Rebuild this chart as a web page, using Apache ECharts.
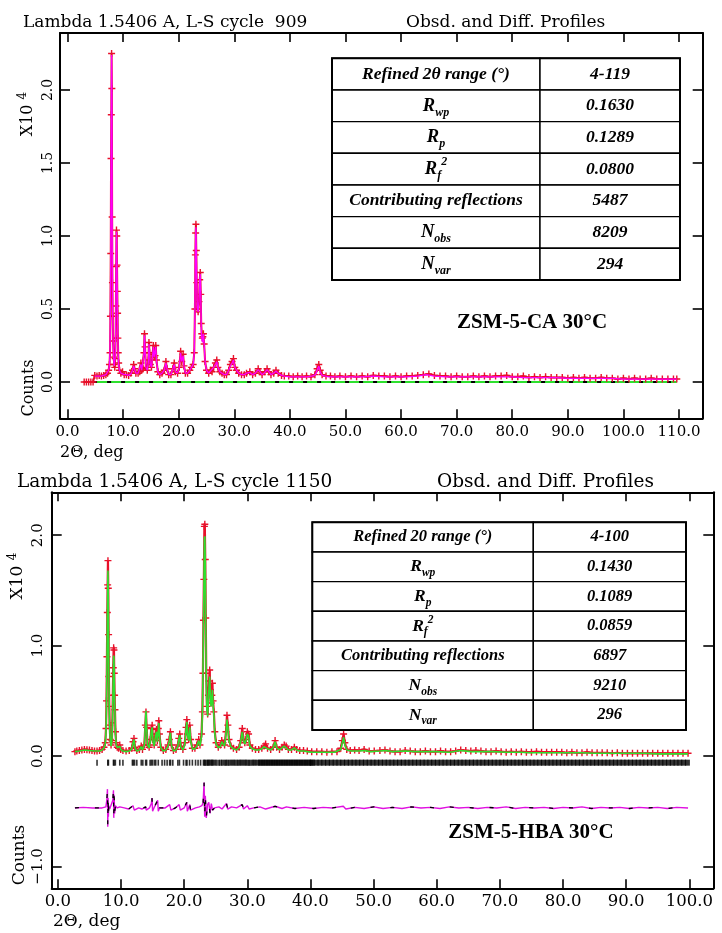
<!DOCTYPE html>
<html>
<head>
<meta charset="utf-8">
<script src="https://cdn.jsdelivr.net/npm/echarts/dist/echarts.min.js"></script>
<style>
html,body{margin:0;padding:0;background:#fff;}
#chart{width:722px;height:933px;}
</style>
</head>
<body>
<div id="chart"></div>
<script>
// ---------------- DATA (counts in units of 10^4) ----------------
const topTitleLeft = 'Lambda 1.5406 A, L-S cycle  909';
const botTitleLeft = 'Lambda 1.5406 A, L-S cycle 1150';
const titleRight = 'Obsd. and Diff. Profiles';
const xAxisTitle = '2\u0398, deg';
const yAxisTitleScale = '{a|X10 }{b|4}';
const yAxisTitleUnit = 'Counts';
const topSampleLabel = 'ZSM-5-CA 30\u00B0C';
const botSampleLabel = 'ZSM-5-HBA 30\u00B0C';

const topXTicks = [0,10,20,30,40,50,60,70,80,90,100,110];
const topXTickLabels = ['0.0','10.0','20.0','30.0','40.0','50.0','60.0','70.0','80.0','90.0','100.0','110.0'];
const topYTicks = [0,0.5,1,1.5,2];
const topYTickLabels = ['0.0','0.5','1.0','1.5','2.0'];
const botXTicks = [0,10,20,30,40,50,60,70,80,90,100];
const botXTickLabels = ['0.0','10.0','20.0','30.0','40.0','50.0','60.0','70.0','80.0','90.0','100.0'];
const botYTicks = [-1,0,1,2];
const botYTickLabels = ['\u22121.0','0.0','1.0','2.0'];

const tableRowLabelsTop = ['Refined 2\u03B8 range (\u00B0)','{m|R}{s|wp}','{m|R}{s|p}','{m|R}{s|f}{p|2}','Contributing reflections','{m|N}{s|obs}','{m|N}{s|var}'];
const tableRowLabelsBot = ['Refined 20 range (\u00B0)','{m|R}{s|wp}','{m|R}{s|p}','{m|R}{s|f}{p|2}','Contributing reflections','{m|N}{s|obs}','{m|N}{s|var}'];
const tableValuesTop = ['4-119','0.1630','0.1289','0.0800','5487','8209','294'];
const tableValuesBot = ['4-100','0.1430','0.1089','0.0859','6897','9210','296'];

// top panel: observed [2theta, counts]
const topObs = [[3.0,0.0],[3.4,0.0],[3.8,0.0],[4.2,0.0],[4.6,0.0],
[4.9,0.045],[5.3,0.04],[5.7,0.045],[6.1,0.04],[6.5,0.045],[6.9,0.05],[7.2,0.06],[7.4,0.08],[7.55,0.12],[7.65,0.2],[7.72,0.45],[7.78,0.88],[7.83,1.53],[7.88,1.83],[7.93,2.25],[7.98,2.01],[8.03,1.13],[8.08,0.68],[8.13,0.45],[8.2,0.28],[8.3,0.17],[8.4,0.12],[8.5,0.1],[8.58,0.16],[8.65,0.3],[8.7,0.52],[8.76,0.79],[8.81,1.04],[8.86,1.0],[8.91,0.8],[8.96,0.62],[9.01,0.47],[9.06,0.3],[9.12,0.2],[9.2,0.13],[9.35,0.08],[9.6,0.06],[9.9,0.07],[10.2,0.05],[10.6,0.05],[11.0,0.045],[11.4,0.06],[11.7,0.08],[11.9,0.12],[12.05,0.09],[12.3,0.06],[12.7,0.06],[13.0,0.07],[13.2,0.13],[13.35,0.08],[13.6,0.09],[13.75,0.2],[13.85,0.33],[13.95,0.24],[14.1,0.1],[14.35,0.08],[14.55,0.15],[14.65,0.27],[14.75,0.2],[14.9,0.12],[15.1,0.1],[15.3,0.19],[15.45,0.25],[15.58,0.17],[15.75,0.18],[15.88,0.25],[16.0,0.15],[16.25,0.07],[16.6,0.05],[17.0,0.06],[17.4,0.08],[17.7,0.14],[17.9,0.09],[18.2,0.05],[18.6,0.05],[18.95,0.09],[19.2,0.13],[19.4,0.07],[19.8,0.06],[20.1,0.1],[20.35,0.21],[20.55,0.14],[20.8,0.19],[20.95,0.11],[21.2,0.06],[21.6,0.06],[22.0,0.08],[22.3,0.1],[22.6,0.12],[22.8,0.2],[22.92,0.5],[23.0,0.87],[23.05,1.02],[23.1,1.08],[23.17,0.9],[23.25,0.68],[23.35,0.5],[23.5,0.48],[23.65,0.55],[23.78,0.7],[23.88,0.75],[23.97,0.6],[24.05,0.4],[24.15,0.33],[24.25,0.3],[24.35,0.31],[24.45,0.33],[24.58,0.26],[24.75,0.14],[25.0,0.08],[25.4,0.06],[25.7,0.08],[26.0,0.07],[26.3,0.1],[26.6,0.13],[26.85,0.15],[27.05,0.1],[27.4,0.07],[27.8,0.06],[28.2,0.05],[28.6,0.05],[29.0,0.08],[29.3,0.12],[29.6,0.14],[29.85,0.16],[30.1,0.1],[30.4,0.08],[30.8,0.06],[31.3,0.05],[31.8,0.05],[32.2,0.06],[32.8,0.07],[33.3,0.05],[33.8,0.06],[34.3,0.09],[34.6,0.07],[35.0,0.05],[35.5,0.07],[35.9,0.09],[36.2,0.07],[36.6,0.05],[37.1,0.06],[37.5,0.08],[37.9,0.06],[38.5,0.045],[39.0,0.04],[39.8,0.04],[40.6,0.035],[41.4,0.04],[42.2,0.035],[43.0,0.04],[43.8,0.035],[44.5,0.05],[44.9,0.09],[45.2,0.12],[45.45,0.08],[45.8,0.05],[46.5,0.04],[47.3,0.04],[48.1,0.035],[49,0.04],[50,0.035],[51,0.04],[52,0.035],[53,0.04],[54,0.035],[55,0.045],[56,0.04],[57,0.04],[58,0.035],[59,0.04],[60,0.035],[61,0.04],[62,0.04],[63,0.045],[64,0.05],[65,0.055],[66,0.045],[67,0.04],[68,0.04],[69,0.035],[70,0.04],[71,0.035],[72,0.035],[73,0.04],[74,0.035],[75,0.04],[76,0.035],[77,0.04],[78,0.04],[79,0.045],[80,0.035],[81,0.035],[82,0.04],[83,0.03],[84,0.035],[85,0.03],[86,0.035],[87,0.03],[88,0.03],[89,0.03],[90,0.025],[91,0.03],[92,0.025],[93,0.03],[94,0.025],[95,0.025],[96,0.03],[97,0.025],[98,0.025],[99,0.02],[100,0.025],[101,0.02],[102,0.025],[103,0.02],[104,0.02],[105,0.025],[106,0.02],[107,0.02],[108,0.02],[109,0.02],[109.6,0.02]];

// top panel: calculated profile
const topCalc = [[4.9,0.04],[5.3,0.04],[5.7,0.04],[6.1,0.04],[6.5,0.045],[6.9,0.05],[7.2,0.06],[7.4,0.08],[7.55,0.12],[7.65,0.22],[7.72,0.48],[7.78,0.9],[7.83,1.5],[7.88,1.9],[7.93,2.24],[7.98,1.98],[8.03,1.15],[8.08,0.7],[8.13,0.44],[8.2,0.27],[8.3,0.16],[8.4,0.11],[8.5,0.1],[8.58,0.17],[8.65,0.32],[8.7,0.54],[8.76,0.8],[8.81,1.03],[8.86,0.98],[8.91,0.78],[8.96,0.6],[9.01,0.46],[9.06,0.29],[9.12,0.19],[9.2,0.12],[9.35,0.08],[9.6,0.06],[9.9,0.065],[10.2,0.05],[10.6,0.05],[11.0,0.045],[11.4,0.055],[11.7,0.08],[11.9,0.11],[12.05,0.09],[12.3,0.06],[12.7,0.06],[13.0,0.07],[13.2,0.12],[13.35,0.08],[13.6,0.09],[13.75,0.19],[13.85,0.32],[13.95,0.23],[14.1,0.1],[14.35,0.08],[14.55,0.14],[14.65,0.26],[14.75,0.2],[14.9,0.12],[15.1,0.1],[15.3,0.18],[15.45,0.24],[15.58,0.17],[15.75,0.18],[15.88,0.24],[16.0,0.15],[16.25,0.07],[16.6,0.05],[17.0,0.06],[17.4,0.08],[17.7,0.13],[17.9,0.09],[18.2,0.05],[18.6,0.05],[18.95,0.09],[19.2,0.12],[19.4,0.07],[19.8,0.06],[20.1,0.1],[20.35,0.2],[20.55,0.14],[20.8,0.18],[20.95,0.11],[21.2,0.06],[21.6,0.06],[22.0,0.08],[22.3,0.1],[22.6,0.12],[22.8,0.2],[22.92,0.5],[23.0,0.88],[23.05,1.0],[23.1,1.06],[23.17,0.9],[23.25,0.68],[23.35,0.5],[23.5,0.48],[23.65,0.55],[23.78,0.7],[23.88,0.74],[23.97,0.6],[24.05,0.4],[24.1,0.3],[24.15,0.33],[24.2,0.28],[24.25,0.31],[24.3,0.27],[24.35,0.31],[24.4,0.28],[24.45,0.33],[24.58,0.26],[24.75,0.14],[25.0,0.08],[25.4,0.06],[25.7,0.075],[26.0,0.07],[26.3,0.1],[26.6,0.12],[26.85,0.14],[27.05,0.1],[27.4,0.07],[27.8,0.06],[28.2,0.05],[28.6,0.05],[29.0,0.08],[29.3,0.11],[29.6,0.13],[29.85,0.15],[30.1,0.1],[30.4,0.08],[30.8,0.06],[31.3,0.05],[31.8,0.05],[32.2,0.06],[32.8,0.065],[33.3,0.05],[33.8,0.06],[34.3,0.085],[34.6,0.07],[35.0,0.05],[35.5,0.065],[35.9,0.085],[36.2,0.07],[36.6,0.05],[37.1,0.06],[37.5,0.075],[37.9,0.06],[38.5,0.045],[39.0,0.04],[40,0.035],[41,0.035],[42,0.035],[43,0.035],[44,0.04],[44.6,0.05],[45.0,0.09],[45.2,0.11],[45.45,0.07],[45.8,0.045],[47,0.035],[49,0.035],[51,0.035],[53,0.035],[55,0.04],[57,0.035],[59,0.035],[61,0.035],[63,0.04],[64.5,0.05],[66,0.04],[68,0.035],[70,0.035],[72,0.035],[74,0.035],[76,0.035],[78,0.035],[80,0.035],[82,0.03],[84,0.03],[86,0.03],[88,0.03],[90,0.025],[92,0.025],[94,0.025],[96,0.025],[98,0.025],[100,0.02],[102,0.02],[104,0.02],[106,0.02],[108,0.02],[109.6,0.02]];

// top panel: zero reference line
const topZero = [[4.6,0.0],[109.6,0.0]];

// bottom panel: observed
const botObs = [[2.7,0.04],[3.0,0.045],[3.4,0.05],[3.8,0.055],[4.2,0.06],[4.6,0.058],[5.0,0.055],[5.4,0.05],[5.8,0.045],[6.2,0.045],[6.6,0.05],[7.0,0.06],[7.3,0.08],[7.5,0.12],[7.62,0.25],[7.7,0.5],[7.77,0.9],[7.83,1.3],[7.88,1.55],[7.93,1.77],[7.98,1.52],[8.03,1.1],[8.08,0.72],[8.14,0.45],[8.2,0.28],[8.3,0.15],[8.42,0.1],[8.55,0.14],[8.63,0.3],[8.7,0.55],[8.77,0.8],[8.83,0.98],[8.88,0.96],[8.93,0.75],[8.98,0.55],[9.04,0.42],[9.12,0.22],[9.22,0.12],[9.4,0.08],[9.6,0.07],[9.8,0.1],[9.95,0.06],[10.3,0.05],[10.8,0.045],[11.3,0.05],[11.7,0.07],[11.9,0.13],[12.05,0.16],[12.2,0.08],[12.5,0.05],[12.9,0.06],[13.2,0.09],[13.4,0.06],[13.7,0.1],[13.85,0.28],[13.95,0.4],[14.05,0.26],[14.2,0.1],[14.45,0.08],[14.65,0.15],[14.8,0.25],[14.93,0.28],[15.05,0.15],[15.25,0.1],[15.45,0.2],[15.62,0.24],[15.75,0.14],[15.9,0.25],[15.98,0.32],[16.08,0.2],[16.3,0.08],[16.7,0.05],[17.1,0.06],[17.45,0.1],[17.65,0.15],[17.82,0.22],[17.98,0.1],[18.3,0.05],[18.7,0.06],[19.0,0.1],[19.15,0.16],[19.3,0.2],[19.45,0.09],[19.8,0.06],[20.1,0.12],[20.3,0.26],[20.42,0.33],[20.55,0.2],[20.72,0.15],[20.88,0.28],[21.02,0.15],[21.3,0.07],[21.7,0.07],[22.0,0.1],[22.3,0.15],[22.5,0.1],[22.75,0.2],[22.88,0.4],[22.97,0.75],[23.05,1.23],[23.12,1.6],[23.2,2.08],[23.27,2.1],[23.34,1.78],[23.42,1.25],[23.5,0.75],[23.6,0.45],[23.72,0.38],[23.84,0.55],[23.94,0.68],[24.04,0.78],[24.14,0.6],[24.26,0.48],[24.38,0.55],[24.47,0.66],[24.58,0.5],[24.7,0.4],[24.85,0.22],[25.05,0.12],[25.4,0.08],[25.75,0.1],[25.95,0.14],[26.15,0.12],[26.4,0.1],[26.62,0.22],[26.78,0.37],[26.92,0.28],[27.1,0.15],[27.4,0.09],[27.8,0.07],[28.3,0.06],[28.7,0.08],[28.95,0.14],[29.2,0.25],[29.4,0.15],[29.6,0.12],[29.8,0.15],[30.0,0.22],[30.2,0.2],[30.4,0.1],[30.8,0.07],[31.3,0.06],[31.8,0.06],[32.3,0.07],[32.65,0.09],[32.9,0.11],[33.2,0.07],[33.7,0.06],[34.1,0.08],[34.4,0.14],[34.65,0.08],[35.1,0.06],[35.5,0.08],[35.85,0.1],[36.15,0.09],[36.5,0.06],[37.0,0.06],[37.45,0.08],[37.8,0.06],[38.3,0.05],[38.9,0.05],[39.5,0.045],[40.2,0.04],[41.0,0.04],[41.8,0.04],[42.6,0.035],[43.4,0.04],[44.2,0.04],[44.8,0.07],[45.05,0.14],[45.25,0.2],[45.45,0.12],[45.75,0.06],[46.3,0.05],[47.0,0.055],[47.7,0.05],[48.5,0.06],[49.3,0.045],[50.1,0.045],[51.0,0.05],[51.8,0.055],[52.6,0.045],[53.4,0.04],[54.2,0.04],[55.0,0.05],[55.8,0.045],[56.6,0.04],[57.4,0.04],[58.2,0.045],[59.0,0.04],[59.8,0.04],[60.6,0.045],[61.4,0.04],[62.2,0.04],[63.0,0.045],[63.8,0.055],[64.6,0.05],[65.4,0.045],[66.2,0.05],[67.0,0.045],[67.8,0.04],[68.6,0.04],[69.4,0.045],[70.2,0.04],[71.0,0.035],[71.8,0.04],[72.6,0.035],[73.4,0.04],[74.2,0.035],[75.0,0.035],[75.8,0.04],[76.6,0.035],[77.4,0.035],[78.2,0.035],[79.0,0.035],[79.8,0.035],[80.6,0.03],[81.4,0.035],[82.2,0.03],[83.0,0.03],[83.8,0.035],[84.6,0.03],[85.4,0.03],[86.2,0.03],[87.0,0.03],[87.8,0.025],[88.6,0.03],[89.4,0.025],[90.2,0.025],[91.0,0.025],[91.8,0.025],[92.6,0.025],[93.4,0.025],[94.2,0.025],[95.0,0.025],[95.8,0.025],[96.6,0.025],[97.4,0.025],[98.2,0.025],[99.0,0.025],[99.8,0.025]];

// bottom panel: calculated profile
const botCalc = [[2.7,0.04],[3.4,0.045],[4.2,0.055],[5.0,0.05],[5.8,0.045],[6.6,0.045],[7.0,0.055],[7.3,0.075],[7.5,0.11],[7.62,0.22],[7.7,0.45],[7.77,0.82],[7.83,1.22],[7.88,1.48],[7.93,1.68],[7.98,1.45],[8.03,1.02],[8.08,0.66],[8.14,0.41],[8.2,0.26],[8.3,0.14],[8.42,0.09],[8.55,0.13],[8.63,0.27],[8.7,0.5],[8.77,0.74],[8.83,0.91],[8.88,0.89],[8.93,0.7],[8.98,0.51],[9.04,0.38],[9.12,0.2],[9.22,0.11],[9.4,0.075],[9.6,0.065],[9.8,0.09],[9.95,0.06],[10.3,0.045],[10.8,0.04],[11.3,0.045],[11.7,0.065],[11.9,0.12],[12.05,0.15],[12.2,0.075],[12.5,0.045],[12.9,0.055],[13.2,0.085],[13.4,0.055],[13.7,0.1],[13.85,0.29],[13.95,0.41],[14.05,0.26],[14.2,0.1],[14.45,0.075],[14.65,0.14],[14.8,0.23],[14.93,0.26],[15.05,0.14],[15.25,0.09],[15.45,0.18],[15.62,0.22],[15.75,0.13],[15.9,0.23],[15.98,0.3],[16.08,0.19],[16.3,0.075],[16.7,0.045],[17.1,0.055],[17.45,0.09],[17.65,0.14],[17.82,0.21],[17.98,0.1],[18.3,0.045],[18.7,0.055],[19.0,0.09],[19.15,0.15],[19.3,0.19],[19.45,0.085],[19.8,0.055],[20.1,0.11],[20.3,0.24],[20.42,0.31],[20.55,0.19],[20.72,0.14],[20.88,0.26],[21.02,0.14],[21.3,0.065],[21.7,0.065],[22.0,0.09],[22.3,0.14],[22.5,0.09],[22.75,0.18],[22.88,0.37],[22.97,0.7],[23.05,1.15],[23.12,1.5],[23.2,1.97],[23.27,1.99],[23.34,1.75],[23.42,1.18],[23.5,0.7],[23.6,0.42],[23.72,0.36],[23.84,0.5],[23.94,0.63],[24.04,0.72],[24.14,0.56],[24.26,0.45],[24.38,0.5],[24.47,0.6],[24.58,0.46],[24.7,0.37],[24.85,0.2],[25.05,0.11],[25.4,0.075],[25.75,0.09],[25.95,0.13],[26.15,0.11],[26.4,0.09],[26.62,0.2],[26.78,0.33],[26.92,0.26],[27.1,0.14],[27.4,0.085],[27.8,0.065],[28.3,0.055],[28.7,0.075],[28.95,0.13],[29.2,0.22],[29.4,0.14],[29.6,0.11],[29.8,0.14],[30.0,0.2],[30.2,0.18],[30.4,0.09],[30.8,0.065],[31.3,0.055],[31.8,0.055],[32.3,0.065],[32.65,0.085],[32.9,0.1],[33.2,0.065],[33.7,0.055],[34.1,0.075],[34.4,0.13],[34.65,0.075],[35.1,0.055],[35.5,0.075],[35.85,0.09],[36.15,0.085],[36.5,0.055],[37.0,0.055],[37.45,0.075],[37.8,0.055],[38.3,0.045],[38.9,0.045],[39.5,0.04],[40.2,0.035],[41.4,0.035],[42.6,0.035],[43.8,0.035],[44.8,0.06],[45.05,0.12],[45.25,0.17],[45.45,0.1],[45.75,0.055],[46.5,0.045],[47.7,0.045],[48.5,0.05],[49.5,0.04],[51.0,0.045],[51.8,0.05],[53.0,0.04],[55.0,0.045],[56.6,0.04],[58.2,0.04],[60.0,0.04],[62.0,0.035],[63.8,0.05],[65.4,0.04],[67.0,0.04],[69.0,0.04],[71.0,0.035],[73.0,0.035],[75.0,0.03],[77.0,0.03],[79.0,0.03],[81.0,0.03],[83.0,0.03],[85.0,0.025],[87.0,0.025],[89.0,0.025],[91.0,0.025],[93.0,0.025],[95.0,0.02],[97.0,0.02],[99.8,0.02]];

// bottom panel: difference curve (offset)
const botDiff = [[2.7,-0.47],[4.0,-0.465],[5.5,-0.47],[7.0,-0.47],[7.6,-0.46],[7.75,-0.40],[7.85,-0.30],[7.9,-0.64],[7.95,-0.38],[8.0,-0.55],[8.05,-0.45],[8.2,-0.48],[8.5,-0.47],[8.7,-0.40],[8.8,-0.31],[8.85,-0.56],[8.9,-0.35],[9.0,-0.52],[9.1,-0.45],[9.4,-0.47],[9.8,-0.46],[10.5,-0.47],[11.2,-0.48],[11.9,-0.45],[12.1,-0.49],[12.8,-0.47],[13.3,-0.48],[13.9,-0.46],[14.0,-0.49],[14.5,-0.47],[14.8,-0.43],[14.9,-0.38],[15.0,-0.50],[15.3,-0.46],[15.8,-0.40],[15.9,-0.50],[16.1,-0.47],[17.0,-0.47],[17.7,-0.44],[17.9,-0.49],[18.6,-0.47],[19.2,-0.44],[19.4,-0.49],[20.0,-0.47],[20.4,-0.42],[20.5,-0.50],[20.9,-0.44],[21.0,-0.49],[21.8,-0.47],[22.4,-0.46],[22.8,-0.45],[23.0,-0.42],[23.15,-0.24],[23.25,-0.55],[23.35,-0.36],[23.5,-0.56],[23.7,-0.44],[23.9,-0.42],[24.1,-0.52],[24.3,-0.43],[24.5,-0.49],[24.8,-0.47],[25.5,-0.46],[26.0,-0.48],[26.7,-0.43],[26.9,-0.48],[27.5,-0.46],[28.3,-0.47],[29.2,-0.44],[29.4,-0.48],[30.0,-0.45],[30.3,-0.48],[31.0,-0.47],[32.0,-0.46],[32.9,-0.48],[34.4,-0.455],[35.5,-0.475],[36.2,-0.46],[37.5,-0.475],[39,-0.465],[40.5,-0.475],[42,-0.465],[43.5,-0.47],[45.2,-0.455],[45.6,-0.48],[47,-0.465],[48.5,-0.475],[50,-0.46],[51.5,-0.475],[53,-0.465],[54.5,-0.475],[56,-0.46],[57.5,-0.47],[59,-0.465],[60.5,-0.475],[62,-0.46],[63.5,-0.47],[65,-0.465],[66.5,-0.475],[68,-0.465],[69.5,-0.47],[71,-0.46],[72.5,-0.475],[74,-0.465],[75.5,-0.47],[77,-0.465],[78.5,-0.475],[80,-0.465],[81.5,-0.47],[83,-0.46],[84.5,-0.475],[86,-0.465],[87.5,-0.47],[89,-0.465],[90.5,-0.475],[92,-0.465],[93.5,-0.47],[95,-0.465],[96.5,-0.475],[98,-0.465],[99.8,-0.47]];

// bottom panel: reflection tick positions (2theta)
const botReflections = [6.2,7.9,8.0,8.8,8.9,9.1,9.8,10.3,11.8,11.95,12.15,12.5,13.2,13.45,13.9,14.05,14.6,14.8,15.0,15.3,15.5,15.9,16.5,16.9,17.3,17.7,17.85,18.2,19.0,19.25,19.9,20.3,20.45,20.85,21.3,21.8,22.2,22.6,23.05,23.2,23.3,23.45,23.65,23.75,23.9,24.0,24.2,24.35,24.45,24.6,24.8,25.0,25.2,25.5,25.65,25.9,26.0,26.25,26.45,26.6,26.75,26.95,27.1,27.3,27.5,27.65,27.85,28.0,28.2,28.4,28.55,28.75,28.9,29.05,29.25,29.4,29.6,29.75,29.9,30.1,30.25,30.4,30.6,30.8,30.95,31.1,31.3,31.7,32.1,32.5,32.9,33.3,33.7,34.1,34.5,34.9,35.3,35.7,36.1,36.5,36.9,37.3,37.7,38.1,38.5,38.9,39.3,39.7,40.1,40.3,40.9,41.5,42.1,42.7,43.3,43.9,44.5,45.1,45.7,46.3,46.9,47.5,48.1,48.7,49.3,49.9,50.5,51.1,51.7,52.3,52.9,53.5,54.1,54.7,55.3,55.9,56.5,57.1,57.7,58.3,58.9,59.5,60.1,60.7,61.3,61.9,62.5,63.1,63.7,64.3,64.9,65.5,66.1,66.7,67.3,67.9,68.5,69.1,69.7,70.3,70.9,71.5,72.1,72.7,73.3,73.9,74.5,75.1,75.7,76.3,76.9,77.5,78.1,78.7,79.3,79.9,80.5,81.1,81.7,82.3,82.9,83.5,84.1,84.7,85.3,85.9,86.5,87.1,87.7,88.3,88.9,89.5,90.1,90.7,91.3,91.9,92.5,93.1,93.7,94.3,94.9,95.5,96.1,96.7,97.3,97.9,98.5,99.1,99.7];
const botReflectionLevel = -0.06;

// ---------------- STYLE ----------------
const FONT = 'DejaVu Serif';
const TFONT = 'Liberation Serif';
const RED = '#e8102a', MAG = '#ff00ff', GRN = '#2ee02e';
const PLUS = 'path://M4,0H6V4H10V6H6V10H4V6H0V4H4Z';

function lab(ticks, labels){ return v => { for (let i=0;i<ticks.length;i++) if (Math.abs(ticks[i]-v)<1e-6) return labels[i]; return ''; }; }

function xAxes(g, min, max, ticks, labels, fs, margin){
  const line = {show:true, onZero:false, lineStyle:{color:'#000', width:2}};
  return [
    {gridIndex:g, type:'value', position:'bottom', min, max, axisLine:line,
     axisTick:{show:true, inside:true, length:9, customValues:ticks, lineStyle:{color:'#000', width:1.6}},
     axisLabel:{show:true, customValues:ticks, formatter:lab(ticks, labels), color:'#000', fontFamily:FONT, fontSize:fs, margin},
     splitLine:{show:false}},
    {gridIndex:g, type:'value', position:'top', min, max, axisLine:line,
     axisTick:{show:true, inside:true, length:9, customValues:ticks, lineStyle:{color:'#000', width:1.6}},
     axisLabel:{show:false}, splitLine:{show:false}}
  ];
}
function yAxes(g, min, max, ticks, labels, fs, margin){
  const line = {show:true, onZero:false, lineStyle:{color:'#000', width:2}};
  return [
    {gridIndex:g, type:'value', position:'left', min, max, axisLine:line,
     axisTick:{show:true, inside:true, length:10, customValues:ticks, lineStyle:{color:'#000', width:1.6}},
     axisLabel:{show:true, rotate:90, customValues:ticks, formatter:lab(ticks, labels), color:'#000', fontFamily:FONT, fontSize:fs, margin},
     splitLine:{show:false}},
    {gridIndex:g, type:'value', position:'right', min, max, axisLine:line,
     axisTick:{show:true, inside:true, length:10, customValues:ticks, lineStyle:{color:'#000', width:1.6}},
     axisLabel:{show:false}, splitLine:{show:false}}
  ];
}

function table(x0, x1, x2, y0, rowH, fs, sub, labels, values){
  const els = [];
  const rich = {
    m:{fontFamily:TFONT, fontSize:fs+1, fontWeight:'bold', fontStyle:'italic', fill:'#000', lineHeight:fs+8, verticalAlign:'middle'},
    s:{fontFamily:TFONT, fontSize:sub, fontWeight:'bold', fontStyle:'italic', fill:'#000', lineHeight:sub, verticalAlign:'bottom'},
    p:{fontFamily:TFONT, fontSize:sub, fontWeight:'bold', fontStyle:'italic', fill:'#000', lineHeight:sub, verticalAlign:'top'}
  };
  for (let i=0;i<labels.length;i++){
    const y = y0 + i*rowH;
    els.push({type:'rect', z:100, shape:{x:x0, y, width:x1-x0, height:rowH}, style:{fill:'#fff', stroke:'#000', lineWidth:1.4}});
    els.push({type:'rect', z:100, shape:{x:x1, y, width:x2-x1, height:rowH}, style:{fill:'#fff', stroke:'#000', lineWidth:1.4}});
    const isRich = labels[i].indexOf('{m|')===0;
    els.push({type:'text', z:101, x:(x0+x1)/2, y:y+rowH/2, style:{text:labels[i], rich: isRich? rich : undefined,
      fontFamily:TFONT, fontSize:fs, fontWeight:'bold', fontStyle:'italic', fill:'#000', align:'center', verticalAlign:'middle'}});
    els.push({type:'text', z:101, x:(x1+x2)/2, y:y+rowH/2, style:{text:values[i],
      fontFamily:TFONT, fontSize:fs, fontWeight:'bold', fontStyle:'italic', fill:'#000', align:'center', verticalAlign:'middle'}});
  }
  els.push({type:'rect', z:102, shape:{x:x0, y:y0, width:x2-x0, height:rowH*labels.length}, style:{fill:'none', stroke:'#000', lineWidth:2}});
  return els;
}

function txt(x, y, text, fs, opt){
  return Object.assign({type:'text', z:90, x, y, style:Object.assign({text, fontFamily:FONT, fontSize:fs, fill:'#000', align:'left', verticalAlign:'middle'}, (opt&&opt.style)||{})}, opt&&opt.el||{});
}
function rtxt(x, y, text, fs, richSub){
  const style = {text, fontFamily:FONT, fontSize:fs, fill:'#000', align:'center', verticalAlign:'middle'};
  if (richSub) style.rich = {a:{fontFamily:FONT, fontSize:fs, fill:'#000', lineHeight:fs+6, verticalAlign:'middle'}, b:{fontFamily:FONT, fontSize:Math.round(fs*0.72), fill:'#000', lineHeight:Math.round(fs*0.72), verticalAlign:'top'}};
  return {type:'text', z:90, x, y, rotation:Math.PI/2, style};
}

const graphics = [].concat(
  [txt(23, 23, topTitleLeft, 17), txt(406, 23, titleRight, 17),
   txt(60, 453, xAxisTitle, 16),
   rtxt(28, 114, yAxisTitleScale, 16, true), rtxt(29, 388, yAxisTitleUnit, 16),
   txt(532, 323, topSampleLabel, 21, {style:{fontFamily:TFONT, fontWeight:'bold', align:'center'}}),
   txt(17, 482, botTitleLeft, 18.5), txt(437, 482, titleRight, 18.5),
   txt(53, 922, xAxisTitle, 17),
   rtxt(18, 576, yAxisTitleScale, 17, true), rtxt(20, 855, yAxisTitleUnit, 17),
   txt(531, 833, botSampleLabel, 21, {style:{fontFamily:TFONT, fontWeight:'bold', align:'center'}})],
  table(332, 540, 680, 58.3, 31.67, 17.5, 12, tableRowLabelsTop, tableValuesTop),
  table(312.3, 533.3, 686, 522.3, 29.67, 16.5, 11.5, tableRowLabelsBot, tableValuesBot)
);

const option = {
  animation:false,
  backgroundColor:'#fff',
  grid:[
    {left:60, top:33, width:642.7, height:385.3, outerBoundsMode:'none', containLabel:false},
    {left:51.7, top:492.3, width:661.6, height:396, outerBoundsMode:'none', containLabel:false}
  ],
  xAxis: [].concat(
    xAxes(0, -1.35, 114.26, topXTicks, topXTickLabels, 15, 6),
    xAxes(1, -0.98, 103.8, botXTicks, botXTickLabels, 16.5, 5)
  ),
  yAxis: [].concat(
    yAxes(0, -0.249, 2.39, topYTicks, topYTickLabels, 14, 5),
    yAxes(1, -1.198, 2.389, botYTicks, botYTickLabels, 15, 6)
  ),
  series:[
    {type:'line', xAxisIndex:0, yAxisIndex:0, data:topZero, showSymbol:false, silent:true, lineStyle:{color:GRN, width:2}, z:2},
    {type:'line', xAxisIndex:0, yAxisIndex:0, data:topZero, showSymbol:false, silent:true, lineStyle:{color:'#000', width:2, type:[4,10]}, z:3},
    {type:'line', xAxisIndex:0, yAxisIndex:0, data:topObs, symbol:PLUS, symbolSize:7, showSymbol:true, silent:true,
     itemStyle:{color:RED}, lineStyle:{color:RED, width:2}, z:4},
    {type:'line', xAxisIndex:0, yAxisIndex:0, data:topCalc, showSymbol:false, silent:true, lineStyle:{color:MAG, width:1.3}, z:5},

    {type:'scatter', xAxisIndex:2, yAxisIndex:2, data:botReflections.map(x=>[x, botReflectionLevel]), symbol:'rect',
     symbolSize:(v)=> v[0] < 31.5 ? [1.6, 6] : [5, 6], silent:true, itemStyle:{color:'#000'}, z:2},
    {type:'line', xAxisIndex:2, yAxisIndex:2, data:botDiff, showSymbol:false, silent:true, lineStyle:{color:'#e010e0', width:1.4}, z:3},
    {type:'line', xAxisIndex:2, yAxisIndex:2, data:botDiff, showSymbol:false, silent:true, lineStyle:{color:'#000', width:1.3, type:[4,16]}, z:3},
    {type:'line', xAxisIndex:2, yAxisIndex:2, data:botObs, symbol:PLUS, symbolSize:7, showSymbol:true, silent:true,
     itemStyle:{color:RED}, lineStyle:{color:RED, width:2.2}, z:4},
    {type:'line', xAxisIndex:2, yAxisIndex:2, data:botCalc, showSymbol:false, silent:true, lineStyle:{color:GRN, width:1.6}, z:5}
  ],
  graphic: graphics
};

const chart = echarts.init(document.getElementById('chart'), null, {renderer:'canvas', width:722, height:933});
chart.setOption(option);
</script>
</body>
</html>
